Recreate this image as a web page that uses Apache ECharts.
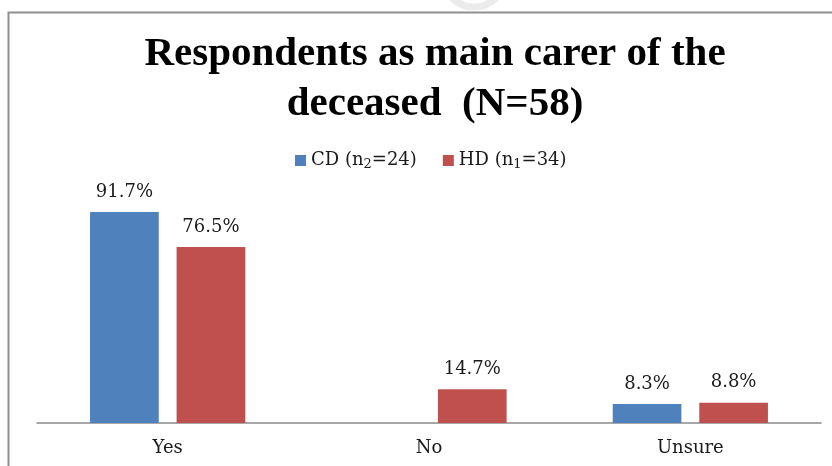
<!DOCTYPE html>
<html>
<head>
<meta charset="utf-8">
<script src="https://cdn.jsdelivr.net/npm/echarts@6/dist/echarts.min.js"></script>
<style>
  html, body { margin: 0; padding: 0; background: #fff; }
  #chart { width: 832px; height: 466px; }
</style>
</head>
<body>
<div id="chart"></div>
<script>
// Respondent groups and answers
const categories = ['Yes', 'No', 'Unsure'];
const cdValues = [91.7, 0, 8.3];   // CD (n2=24), percent
const hdValues = [76.5, 14.7, 8.8]; // HD (n1=34), percent
const seriesNames = ['CD', 'HD'];
const seriesSub = ['2', '1'];
const seriesCounts = ['24', '34'];

const serif = '"Liberation Serif", "DejaVu Serif", serif';
const wideSerif = '"DejaVu Serif", "Liberation Serif", serif';

const chart = echarts.init(document.getElementById('chart'));

const labelCfg = {
  show: true,
  position: 'top',
  distance: 11,
  fontFamily: wideSerif,
  fontSize: 18,
  color: '#1a1a1a',
  formatter: p => (p.value === 0 ? '' : p.value.toFixed(1) + '%')
};

chart.setOption({
  backgroundColor: '#ffffff',
  animation: false,
  title: {
    text: 'Respondents as main carer of the\ndeceased  (N=58)',
    left: 430,
    textAlign: 'center',
    top: 24,
    textStyle: {
      fontFamily: serif,
      fontWeight: 'bold',
      fontSize: 41,
      lineHeight: 50,
      color: '#000'
    }
  },
  legend: {
    top: 145,
    left: 290,
    itemWidth: 11,
    itemHeight: 11,
    itemGap: 26,
    icon: 'rect',
    data: seriesNames,
    formatter: name => {
      const i = seriesNames.indexOf(name);
      return '{a|' + name + ' (n}{s|' + seriesSub[i] + '}{a|=' + seriesCounts[i] + ')}';
    },
    textStyle: {
      fontFamily: wideSerif,
      fontSize: 18,
      color: '#1a1a1a',
      rich: {
        a: { fontFamily: wideSerif, fontSize: 18, color: '#1a1a1a', lineHeight: 20 },
        s: { fontFamily: wideSerif, fontSize: 13, color: '#1a1a1a', lineHeight: 20, padding: [8, 0, 0, 0] }
      }
    }
  },
  grid: { left: 37, right: 11, top: 193, bottom: 43 },
  xAxis: {
    type: 'category',
    data: categories,
    axisTick: { show: false },
    axisLine: { lineStyle: { color: '#8a8a8a', width: 1.5 } },
    axisLabel: {
      fontFamily: wideSerif,
      fontSize: 18,
      color: '#1a1a1a',
      margin: 16
    }
  },
  yAxis: {
    type: 'value',
    min: 0,
    max: 100,
    show: false,
    splitLine: { show: false }
  },
  series: [
    {
      name: 'CD',
      type: 'bar',
      data: cdValues,
      barGap: '26%',
      barCategoryGap: '40.6%',
      itemStyle: { color: '#4f81bd' },
      label: labelCfg
    },
    {
      name: 'HD',
      type: 'bar',
      data: hdValues,
      barGap: '26%',
      barCategoryGap: '40.6%',
      itemStyle: { color: '#c0504d' },
      label: labelCfg
    }
  ],
  graphic: [
    {
      // faint ring partly cut off at the top edge
      type: 'circle',
      shape: { cx: 474, cy: -24, r: 31 },
      style: { stroke: '#ebebeb', lineWidth: 7, fill: null },
      silent: true,
      z: -1
    },
    {
      type: 'polyline',
      shape: { points: [[8.5, 470], [8.5, 12.5], [840, 12.5]] },
      style: { stroke: '#8f8f8f', lineWidth: 2, fill: null },
      silent: true
    }
  ]
});
</script>
</body>
</html>
